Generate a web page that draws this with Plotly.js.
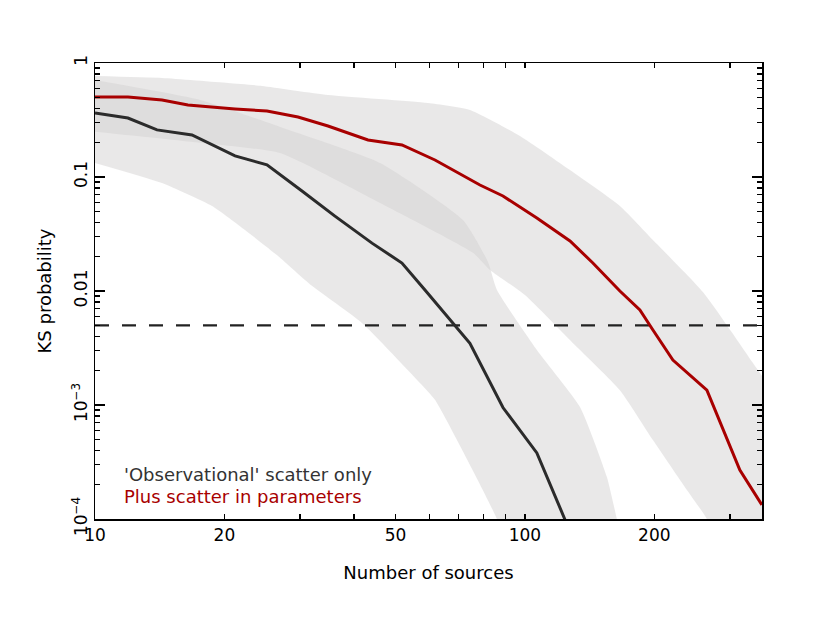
<!DOCTYPE html>
<html>
<head>
<meta charset="utf-8">
<script src="https://cdn.plot.ly/plotly-3.0.1.min.js"></script>
<style>body{margin:0;background:#fff;} #chart{width:830px;height:623px;}</style>
</head>
<body>
<div id="chart"></div>
<script>
// Median KS probability, 'Observational' scatter only
const obsN = [10, 11.93, 13.94, 16.81, 21.17, 25.12, 30.30, 36.15, 44.09, 51.76, 58.55, 69.48, 74.49, 88.90, 106.6, 123.9, 127.3];
const obsP = [0.364, 0.329, 0.259, 0.234, 0.153, 0.128, 0.0754, 0.0454, 0.0263, 0.0176, 0.0102, 0.00479, 0.00348, 0.00095, 0.00038, 0.000099, 0.000077];

// Median KS probability, plus scatter in parameters
const parN = [10, 11.93, 14.32, 16.45, 21.17, 25.12, 29.66, 34.83, 43.15, 51.76, 61.77, 78.60, 88.90, 106.6, 127.3, 143.9, 166.3, 185.1, 198.5, 220.9, 265.0, 316.2, 355.8];
const parP = [0.503, 0.503, 0.474, 0.428, 0.395, 0.379, 0.336, 0.280, 0.211, 0.191, 0.141, 0.0851, 0.0681, 0.0437, 0.0275, 0.0176, 0.0100, 0.00681, 0.00455, 0.00248, 0.00135, 0.000269, 0.000133];

// Scatter envelope, observational only
const obsUpN = [10, 17.55, 26.93, 46.02, 71.75, 82.04, 86.09, 106.6, 134.3, 155.1, 163.7, 170.8];
const obsUpP = [0.709, 0.474, 0.275, 0.133, 0.042, 0.0180, 0.0102, 0.00304, 0.00096, 0.000233, 0.0001, 0.000059];
const obsLoN = [10, 14.32, 18.72, 22.33, 26.65, 31.96, 41.78, 57.00, 61.77, 86.09, 89.85];
const obsLoP = [0.133, 0.0886, 0.0557, 0.0343, 0.0203, 0.0111, 0.00524, 0.00156, 0.00111, 0.0001, 0.000059];

// Scatter envelope, plus parameter scatter
const parUpN = [10, 14.32, 20.39, 24.46, 34.83, 59.50, 74.49, 97.36, 127.3, 166.3, 198.5, 259.4, 339.2, 371.4, 371.4];
const parUpP = [0.769, 0.739, 0.668, 0.629, 0.524, 0.446, 0.387, 0.229, 0.115, 0.0557, 0.028, 0.0098, 0.00233, 0.00135, 0.000059];
const parLoN = [10, 17.55, 26.93, 46.02, 75.70, 82.93, 100, 130.7, 166.3, 198.5, 238.1, 265.0, 276.6];
const parLoP = [0.25, 0.2, 0.162, 0.0591, 0.0216, 0.0153, 0.00923, 0.00336, 0.00135, 0.000493, 0.00018, 0.0001, 0.000059];

// Significance threshold
const threshN = [10, 356];
const threshP = [0.005, 0.005];

const legendLabels = ["'Observational' scatter only", "Plus scatter in parameters"];
const xTickVals = [10, 20, 50, 100, 200];
const xTickText = ['10', '20', '50', '100', '200'];
const yTickVals = [1e-4, 1e-3, 0.01, 0.1, 1];
const yTickText = ['10<sup>\u22124</sup>', '10<sup>\u22123</sup>', '0.01', '0.1', '1'];

function band(upN, upP, loN, loP) {
  return {
    x: upN.concat(loN.slice().reverse()),
    y: upP.concat(loP.slice().reverse())
  };
}
const b1 = band(obsUpN, obsUpP, obsLoN, obsLoP);
const b2 = band(parUpN, parUpP, parLoN, parLoP);

const bandFill = 'rgba(211,209,209,0.5)';
const traces = [
  {x: b2.x, y: b2.y, type: 'scatter', mode: 'lines', fill: 'toself',
   fillcolor: bandFill, line: {width: 0, shape: 'spline', smoothing: 0.5}, hoverinfo: 'skip'},
  {x: b1.x, y: b1.y, type: 'scatter', mode: 'lines', fill: 'toself',
   fillcolor: bandFill, line: {width: 0, shape: 'spline', smoothing: 0.5}, hoverinfo: 'skip'},
  {x: threshN, y: threshP, type: 'scatter', mode: 'lines',
   line: {color: '#222', width: 2.2, dash: '14px,13px'}},
  {x: obsN, y: obsP, type: 'scatter', mode: 'lines', line: {color: '#2b2b2b', width: 3}},
  {x: parN, y: parP, type: 'scatter', mode: 'lines', line: {color: '#a80000', width: 3}}
];

const minorY = [];
[1e-4, 1e-3, 1e-2, 1e-1].forEach(d => { for (let k = 2; k <= 9; k++) minorY.push(d * k); });

const fam = 'DejaVu Sans, sans-serif';
const xr = [1, Math.log10(356)];

const layout = {
  width: 830, height: 623,
  margin: {l: 95, r: 68, t: 63, b: 104},
  paper_bgcolor: '#fff', plot_bgcolor: '#fff',
  showlegend: false,
  font: {family: fam, size: 16, color: '#000'},
  xaxis: {
    type: 'log', range: xr, tickmode: 'array', tickvals: xTickVals, ticktext: xTickText,
    ticks: 'inside', ticklen: 5, tickwidth: 1.5, tickcolor: '#000',
    showline: true, linecolor: '#000', linewidth: 1.5, mirror: 'ticks',
    showgrid: false, zeroline: false,
    tickfont: {family: fam, size: 17, color: '#000'},
    minor: {tickvals: [30, 40, 60, 70, 80, 90, 300], ticks: 'inside', ticklen: 5, tickwidth: 1.5, tickcolor: '#000', showgrid: false},
    title: {text: 'Number of sources', font: {family: fam, size: 18, color: '#000'}, standoff: 22}
  },
  xaxis2: {
    type: 'log', range: xr, overlaying: 'x', anchor: 'y', side: 'bottom',
    tickmode: 'array', tickvals: [10, 100], showticklabels: false,
    ticks: 'inside', ticklen: 10, tickwidth: 1.5, tickcolor: '#000',
    mirror: 'ticks', showline: false, showgrid: false, zeroline: false
  },
  yaxis: {
    type: 'log', range: [-4, 0], tickmode: 'array', tickvals: yTickVals, ticktext: yTickText,
    ticks: 'inside', ticklen: 10, tickwidth: 1.5, tickcolor: '#000', tickangle: -90,
    showline: true, linecolor: '#000', linewidth: 1.5, mirror: 'ticks',
    showgrid: false, zeroline: false,
    tickfont: {family: fam, size: 17, color: '#000'},
    minor: {tickvals: minorY, ticks: 'inside', ticklen: 5, tickwidth: 1.5, tickcolor: '#000', showgrid: false},
    title: {text: 'KS probability', font: {family: fam, size: 18, color: '#000'}, standoff: 12}
  },
  annotations: [
    {xref: 'paper', yref: 'paper', x: 0.04, y: 0.098, xanchor: 'left', yanchor: 'middle', showarrow: false,
     text: legendLabels[0], font: {family: fam, size: 18, color: '#333'}},
    {xref: 'paper', yref: 'paper', x: 0.04, y: 0.049, xanchor: 'left', yanchor: 'middle', showarrow: false,
     text: legendLabels[1], font: {family: fam, size: 18, color: '#a80000'}}
  ]
};

Plotly.newPlot('chart', traces, layout, {displayModeBar: false, staticPlot: true});
</script>
</body>
</html>
